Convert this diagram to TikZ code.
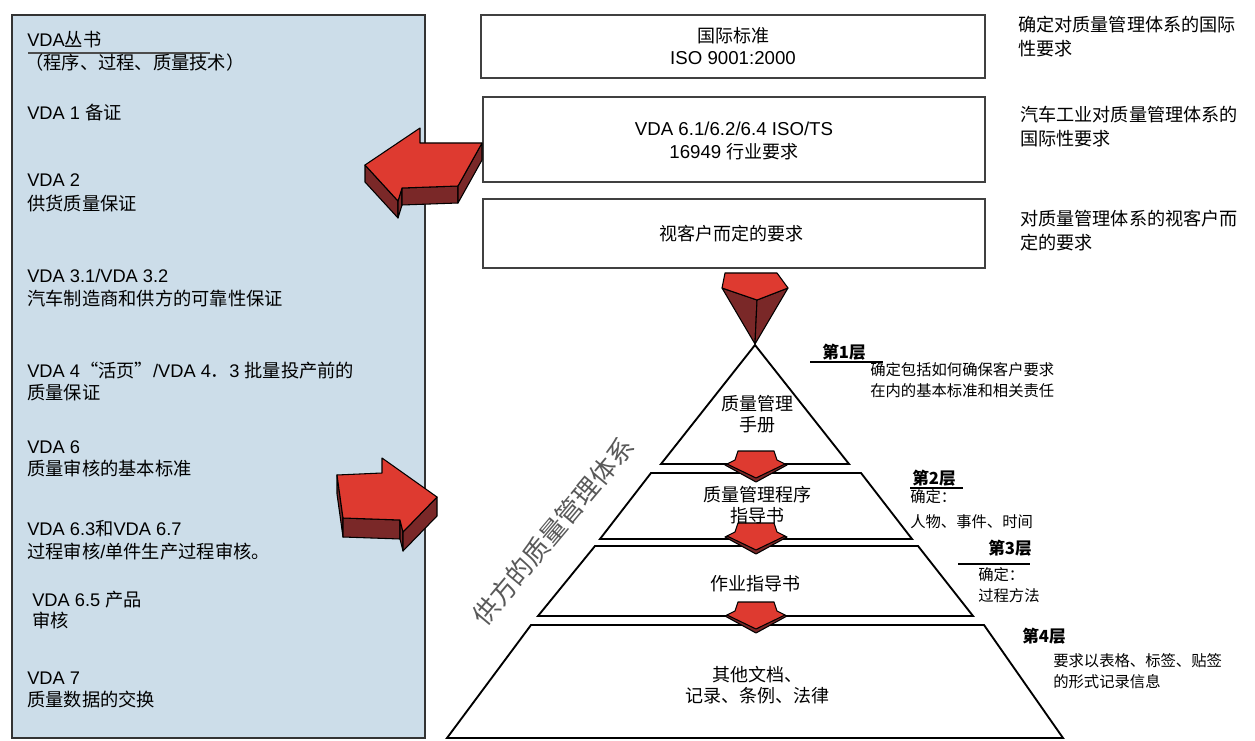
\documentclass[tikz,border=0pt]{standalone}
\usepackage{fontspec}
\setmainfont{Liberation Sans}
\newfontfamily\cjk{Noto Sans CJK SC}
\definecolor{leftbg}{HTML}{CCDDE9}
\definecolor{arrowred}{HTML}{DE3A30}
\definecolor{arrowdark}{HTML}{7A2828}
\definecolor{framegray}{HTML}{333333}
\begin{document}
\begin{tikzpicture}[x=0.75pt,y=-0.75pt,
  lt/.style={anchor=west, inner sep=0pt, font=\fontsize{13.7}{15}\selectfont},
  ct/.style={align=center, inner sep=0pt, font=\fontsize{14}{17}\selectfont},
  rt/.style={anchor=west, align=left, inner sep=0pt, font=\cjk\fontsize{13.6}{18}\selectfont},
  st/.style={anchor=west, align=left, inner sep=0pt, font=\cjk\fontsize{11.5}{15.5}\selectfont},
  lay/.style={anchor=west, inner sep=0pt, font=\cjk\bfseries\fontsize{12.5}{14}\selectfont},
  pt/.style={align=center, inner sep=0pt, font=\cjk\fontsize{13.5}{16}\selectfont},
  topbox/.style={draw=black!75, line width=1.3pt},
  pyr/.style={draw=black, line width=1.4pt, line join=miter},
  redface/.style={fill=arrowred, draw=black, line width=0.8pt, line join=round},
  darkface/.style={fill=arrowdark, draw=black, line width=0.8pt, line join=round},
  smallarrow/.pic={
    \path[darkface] (-31,14) -- (-21,10) -- (21,10) -- (31,14) -- (0,31) -- cycle;
    \path[redface] (-18,0) -- (18,0) -- (21,9) -- (29,13) -- (0,27) -- (-29,13) -- (-21,9) -- cycle;
  }]
\useasboundingbox (0,0) rectangle (1255,741);
\fill[white] (0,0) rectangle (1255,741);

% left panel
\draw[fill=leftbg, draw=framegray, line width=1.5pt] (12,15) rectangle (425,738);
\draw[black!70, line width=2pt] (28,53) -- (210,53);
\node[lt] (l1) at (27,40) {VDA{\cjk 丛书}};
\node[lt] (l2) at (25,63) {\cjk （程序、过程、质量技术）};
\node[lt] (l3) at (27,113) {VDA 1 {\cjk 备证}};
\node[lt] (l4) at (27,180) {VDA 2};
\node[lt] (l5) at (27,204) {\cjk 供货质量保证};
\node[lt] (l6) at (27,276) {VDA 3.1/VDA 3.2};
\node[lt] (l7) at (27,299) {\cjk 汽车制造商和供方的可靠性保证};
\node[lt] (l8) at (27,371) {VDA 4{\cjk “活页”}/VDA 4{\cjk ．}3 {\cjk 批量投产前的}};
\node[lt] (l9) at (27,393) {\cjk 质量保证};
\node[lt] (l10) at (27,447) {VDA 6};
\node[lt] (l11) at (27,469) {\cjk 质量审核的基本标准};
\node[lt] (l12) at (27,529) {VDA 6.3{\cjk 和}VDA 6.7};
\node[lt] (l13) at (27,552) {{\cjk 过程审核}/{\cjk 单件生产过程审核。}};
\node[lt] (l14) at (32,600) {VDA 6.5 {\cjk 产品}};
\node[lt] (l15) at (32,620) {\cjk 审核};
\node[lt] (l16) at (27,678) {VDA 7};
\node[lt] (l17) at (27,699) {\cjk 质量数据的交换};

% top boxes
\draw[topbox] (481,15) rectangle (985,78);
\node[ct] (b1) at (733,46) {{\cjk\fontsize{13.5}{17}\selectfont 国际标准}\\ISO 9001:2000};
\draw[topbox] (483,97) rectangle (985,182);
\node[ct] (b2) at (734,141) {VDA 6.1/6.2/6.4 ISO/TS\\16949 {\cjk\fontsize{13.5}{17}\selectfont 行业要求}};
\draw[topbox] (483,199) rectangle (985,268);
\node[ct] (b3) at (731,234) {\cjk\fontsize{13.5}{17}\selectfont 视客户而定的要求};

\node[rt] (r1) at (1018,37) {确定对质量管理体系的国际\\性要求};
\node[rt] (r2) at (1020,127) {汽车工业对质量管理体系的\\国际性要求};
\node[rt] (r3) at (1020,231) {对质量管理体系的视客户而\\定的要求};

% big left arrow
\path[darkface] (398,201) -- (365,165) -- (365,182) -- (398,218) -- cycle;
\path[darkface] (402,188) -- (398,201) -- (398,218) -- (402,205) -- cycle;
\path[darkface] (458,186) -- (402,188) -- (402,205) -- (458,203) -- cycle;
\path[darkface] (482,143) -- (458,186) -- (458,203) -- (482,160) -- cycle;
\path[redface] (365,165) -- (420,128) -- (420,143) -- (482,143) -- (458,186) -- (402,188) -- (398,201) -- cycle;

% big right arrow
\path[darkface] (337,475) -- (343,518) -- (343,537) -- (337,494) -- cycle;
\path[darkface] (343,518) -- (400,520) -- (400,539) -- (343,537) -- cycle;
\path[darkface] (400,520) -- (403,532) -- (403,551) -- (400,539) -- cycle;
\path[darkface] (403,532) -- (437,497) -- (437,516) -- (403,551) -- cycle;
\path[redface] (337,475) -- (382,473) -- (382,458) -- (437,497) -- (403,532) -- (400,520) -- (343,518) -- cycle;

% pyramid
\draw[pyr] (755,345) -- (849,464) -- (661,464) -- cycle;
\draw[pyr] (651,473) -- (861,473) -- (912,539) -- (600,539) -- cycle;
\draw[pyr] (595,546) -- (918,546) -- (973,616) -- (538,616) -- cycle;
\draw[pyr] (531,625) -- (984,625) -- (1063,738) -- (447,738) -- cycle;

% top down arrow
\path[darkface] (722,288) -- (757,300) -- (755,344) -- cycle;
\path[darkface] (757,300) -- (788,288) -- (755,344) -- cycle;
\path[redface] (725,273) -- (777,273) -- (788,288) -- (757,300) -- (722,288) -- cycle;

% small arrows
\pic at (756,451) {smallarrow};
\pic at (756,523) {smallarrow};
\pic at (756,602) {smallarrow};

% pyramid texts
\node[pt] (p1) at (757,414) {质量管理\\手册};
\node[pt] (p2) at (757,505) {\cjk\fontsize{13.5}{18}\selectfont 质量管理程序\\指导书};
\node[pt] (p3) at (755,584) {作业指导书};
\node[pt] (p4) at (757,685) {\cjk\fontsize{13.5}{20}\selectfont 其他文档、\\记录、条例、法律};

\node[rotate=50, inner sep=0pt, text=black!65, font=\cjk\fontsize{19.5}{20}\selectfont] (side) at (553,531) {供方的质量管理体系};

% layer labels
\node[lay] (t1) at (822,352) {第1层};
\draw[black, line width=1.5pt] (810,362) -- (883,362);
\node[st] (d1) at (870,380) {确定包括如何确保客户要求\\在内的基本标准和相关责任};
\node[lay] (t2) at (912,478) {第2层};
\draw[black, line width=1.5pt] (910,488) -- (963,488);
\node[st] (d2) at (910,497) {确定：};
\node[st] (d2b) at (910,522) {人物、事件、时间};
\node[lay] (t3) at (988,548) {第3层};
\draw[black, line width=1.5pt] (958,564) -- (1030,564);
\node[st] (d3) at (978,575) {确定：};
\node[st] (d3b) at (978,596) {过程方法};
\node[lay] (t4) at (1022,636) {第4层};
\node[st] (d4) at (1053,671) {要求以表格、标签、贴签\\的形式记录信息};
\end{tikzpicture}
\end{document}
